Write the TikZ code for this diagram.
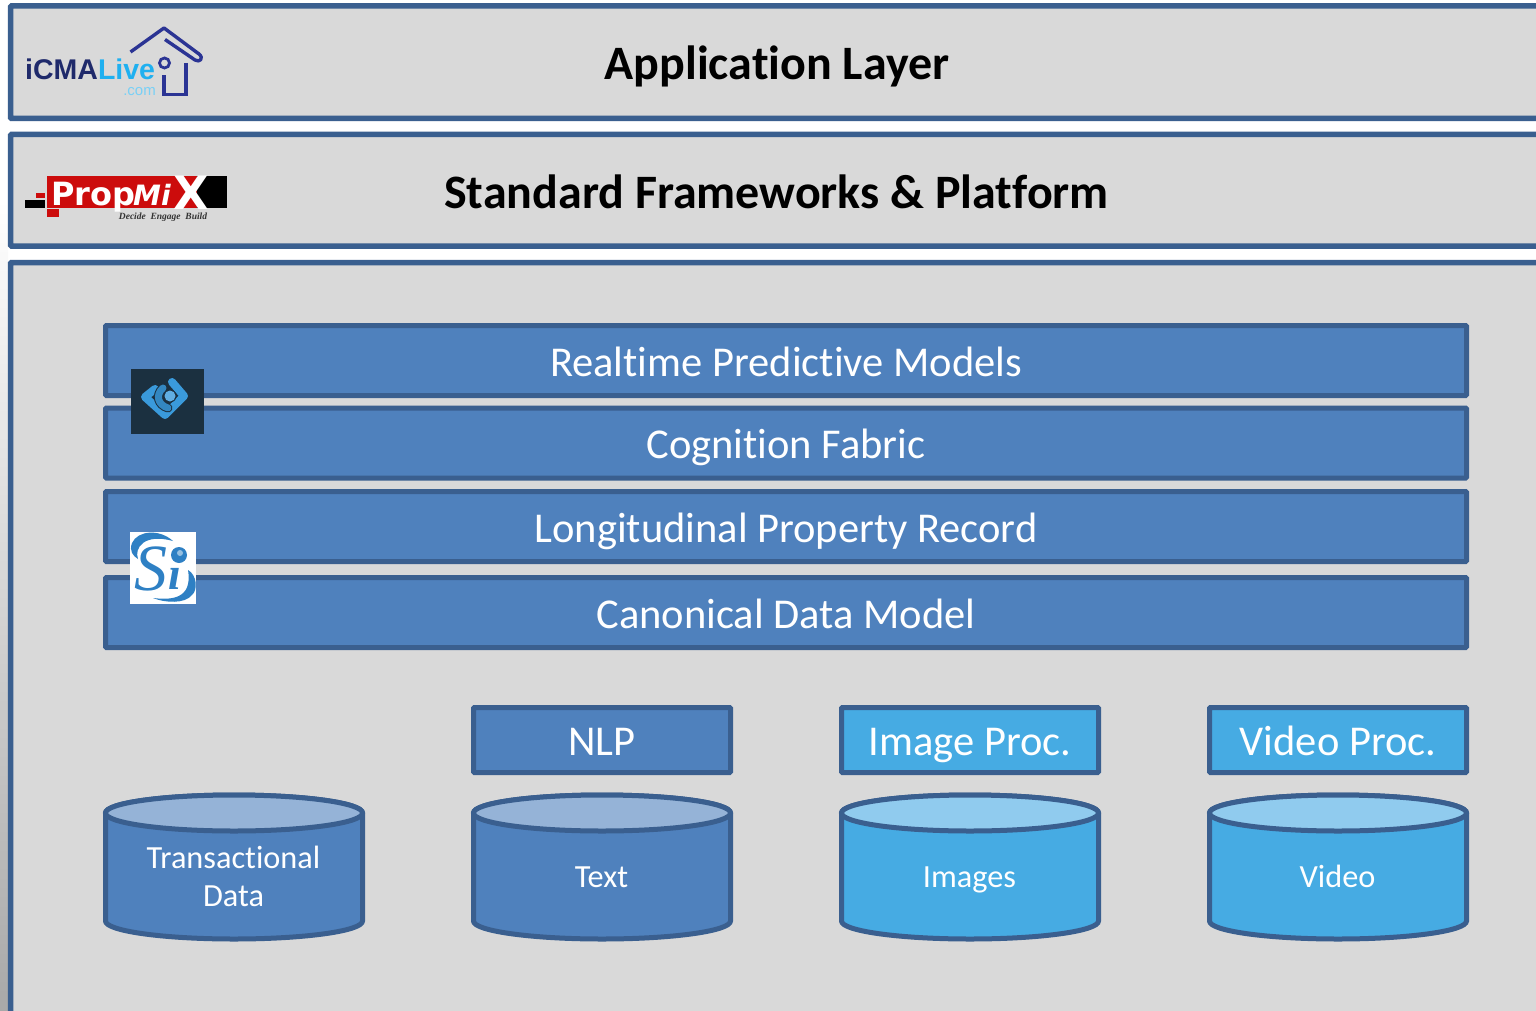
\documentclass[tikz,border=0pt]{standalone}
\usepackage{fontspec}
\setmainfont[Ligatures=NoCommon]{Carlito}
\newfontfamily\logosans{Liberation Sans}
\newfontfamily\logoheavy{DejaVu Sans}
\newfontfamily\logoserif{Liberation Serif}
\definecolor{panelgray}{HTML}{D9D9D9}
\definecolor{edgeblue}{HTML}{3A5F8F}
\definecolor{barblue}{HTML}{4F81BD}
\definecolor{skyblue}{HTML}{46ABE3}
\definecolor{lidblue}{HTML}{95B3D7}
\definecolor{lidsky}{HTML}{90CBEE}
\definecolor{logonavy}{HTML}{1F2A6B}
\definecolor{logohouse}{HTML}{2B3494}
\definecolor{logocyan}{HTML}{1FB0F0}
\definecolor{logored}{HTML}{CC0C0C}
\definecolor{icondark}{HTML}{1B3040}
\definecolor{iconblue}{HTML}{3A9ADB}
\definecolor{siblue}{HTML}{2E80C4}
\tikzset{
  panel/.style={draw=edgeblue,line width=5.5pt,fill=panelgray,rounded corners=1pt},
  panelhead/.style={font=\fontsize{48}{54}\selectfont\bfseries,text=black,inner sep=0pt,anchor=base},
  barbox/.style={draw=edgeblue,line width=5pt,fill=barblue,rounded corners=1pt,text=white,
    font=\fontsize{42.5}{48}\selectfont,inner sep=0pt,minimum width=1361pt,minimum height=70pt,text height=31pt,text depth=0pt},
  procbox/.style={draw=edgeblue,line width=5pt,rounded corners=1pt,text=white,
    font=\fontsize{42.5}{48}\selectfont,inner sep=0pt,minimum width=257pt,minimum height=65pt,text height=30pt,text depth=0pt},
  drum/.style={draw=edgeblue,line width=5pt,fill=#1},
  drumlabel/.style={text=white,font=\fontsize{32.3}{38}\selectfont,align=center,inner sep=0pt,anchor=base},
}
\newcommand{\drumat}[3]{% left x, body colour, lid colour
  \draw[drum=#2] (#1,813) -- (#1,921) arc[start angle=180,end angle=0,x radius=128.5,y radius=18] -- (#1+257,813) arc[start angle=0,end angle=-180,x radius=128.5,y radius=18] -- cycle;
  \draw[drum=#3] (#1+128.5,813) ellipse[x radius=128.5,y radius=18];
}
\begin{document}
\begin{tikzpicture}[x=1pt,y=-1pt]
\useasboundingbox (0,0) rectangle (1536,1011);
\fill[white] (0,0) rectangle (1536,1011);
\begin{scope}
\clip (0,0) rectangle (1536,1011);
\shade[top color=white,bottom color=black!34] (0,200) rectangle (8,1011);
\draw[panel] (10.5,6) rectangle (1560,118.5);
\draw[panel] (10.5,134.5) rectangle (1560,246);
\draw[panel] (10.5,262.5) rectangle (1560,1040);
\end{scope}
\node[panelhead] (applayer) at (777,80) {Application Layer};
\node[panelhead] (platform) at (776.5,208) {Standard Frameworks \& Platform};
% bars
\node[barbox] (models) at (786,360.5) {Realtime Predictive Models};
\node[barbox] (fabric) at (786,443) {Cognition Fabric};
\node[barbox] (record) at (786,526.5) {Longitudinal Property Record};
\node[barbox] (canon) at (786,612.5) {Canonical Data Model};
% processing boxes
\node[procbox,fill=barblue] (nlp) at (602,740) {NLP};
\node[procbox,fill=skyblue] (imgp) at (970,740) {Image Proc.};
\node[procbox,fill=skyblue] (vidp) at (1338,740) {Video Proc.};
% drums
\drumat{105.5}{barblue}{lidblue}
\drumat{473.5}{barblue}{lidblue}
\drumat{841.5}{skyblue}{lidsky}
\drumat{1209.5}{skyblue}{lidsky}
\node[drumlabel] (trans) at (233.5,868) {Transactional};
\node[drumlabel] (transb) at (233.5,906) {Data};
\node[drumlabel] (textd) at (601.5,887) {Text};
\node[drumlabel] (imgd) at (969.5,887) {Images};
\node[drumlabel] (vidd) at (1337.5,887) {Video};
% iCMALive logo
\node[inner sep=0pt,anchor=base west,font=\logosans\bfseries\fontsize{28.5}{30}\selectfont] (icma) at (25,80)
  {\textcolor{logonavy}{iCMA}\textcolor{logocyan}{Live}};
\node[inner sep=0pt,anchor=base east,text=logocyan!60,font=\logosans\fontsize{15}{16}\selectfont] (icmacom) at (156,96) {.com};
\draw[logohouse,line width=3.4pt,line join=round] (130.5,52) -- (164,28) -- (199,54) .. controls (204,58) and (200,63) .. (195,60) -- (165,39.5);
\draw[logohouse,line width=3.4pt] (186,63) -- (186,94.5) -- (164,94.5) -- (164,75);
\draw[logohouse,line width=2.8pt] (164.5,63) circle[radius=5];
% PropMiX logo
\fill[logored] (47,176) rectangle (200,208);
\fill[black] (197,176) rectangle (227,208);
\fill[black] (25,200) rectangle (45,208);
\fill[logored] (36,193) rectangle (45,198);
\fill[logored] (47,209) rectangle (59,217);
\node[inner sep=0pt,anchor=base west,text=white,font=\logoheavy\bfseries\fontsize{32}{33}\selectfont] (propt) at (51,205) {Prop};
\node[inner sep=0pt,anchor=base west,text=white,font=\logoheavy\bfseries\itshape\fontsize{28}{29}\selectfont] (mit) at (133,205) {Mi};
\node[inner sep=0pt,anchor=base west,text=white,font=\logoheavy\bfseries\fontsize{46}{46}\selectfont] (xt) at (173,209) {X};
\node[inner sep=0pt,anchor=base,text=black!80,font=\logoserif\bfseries\itshape\fontsize{9.5}{10}\selectfont] (tagt) at (163,219) {Decide\ \ Engage\ \ Build};
% dark icon
\fill[icondark] (131,369) rectangle (204,433.5);
\draw[iconblue,line width=8pt,line cap=round,line join=round] (155,389) -- (145,397) -- (165,415) -- (184,396) -- (172,382);
\draw[icondark,line width=9pt,line cap=round] (163,388) .. controls (155,395) and (158,405) .. (168,408);
\draw[iconblue!88!black,line width=7pt,line cap=round] (163,388) .. controls (155,395) and (158,405) .. (168,408);
\fill[icondark] (170,396) circle[radius=6.5];
\fill[iconblue!80!white] (170,396) circle[radius=5.5];
% Si icon
\fill[white] (130,532) rectangle (196,604);
\node[inner sep=0pt,anchor=base,text=siblue,font=\logoserif\itshape\fontsize{66}{66}\selectfont] (sit) at (151,590) {S};
\node[inner sep=0pt,anchor=base,text=siblue,font=\logoserif\bfseries\itshape\fontsize{46}{46}\selectfont] (iit) at (175,589) {\char"0131};
\fill[siblue] (179,555) circle[radius=8];
\fill[siblue!50!white] (180,553) circle[radius=3];
\fill[siblue] (173,541) .. controls (160,529) and (138,530) .. (132,543) .. controls (129,551) and (133,556) .. (138,559) .. controls (134,548) and (144,533) .. (173,541) -- cycle;
\fill[siblue] (188,570) .. controls (197,575) and (198,590) .. (192,595) .. controls (185,604) and (165,603) .. (153,598) .. controls (170,600) and (193,600) .. (188,570) -- cycle;
\end{tikzpicture}
\end{document}
